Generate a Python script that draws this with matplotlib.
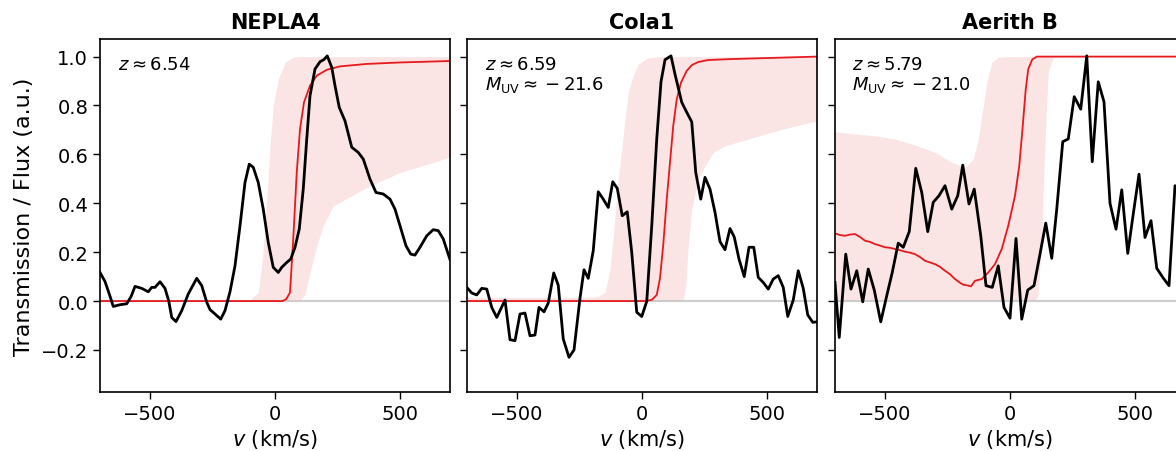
import numpy as np
import matplotlib
matplotlib.use("Agg")
import matplotlib.pyplot as plt

# ---------------- data ----------------
titles = ["NEPLA4", "Cola1", "Aerith B"]
labels = [r"$z\approx6.54$",
          "$z\\approx6.59$\n$M_{\\rm UV}\\approx-21.6$",
          "$z\\approx5.79$\n$M_{\\rm UV}\\approx-21.0$"]

# NEPLA4 observed flux
v1 = [-700, -680, -660, -647, -620, -593, -575, -560, -533, -507, -493, -480, -460, -440, -425, -413,
      -396, -373, -347, -313, -293, -273, -260, -240, -217, -200, -180, -160, -140, -120, -103, -87,
      -67, -47, -27, -7, 13, 27, 47, 63, 80, 97, 113, 127, 140, 160, 180, 196, 209, 227, 240, 257,
      280, 307, 333, 353, 380, 404, 433, 460, 480, 500, 524, 543, 560, 580, 607, 633, 653, 673, 697, 700]
f1 = [0.117, 0.08, 0.02, -0.022, -0.015, -0.011, 0.02, 0.06, 0.052, 0.038, 0.056, 0.056, 0.079, 0.052, 0.0, -0.067,
      -0.084, -0.039, 0.029, 0.093, 0.063, -0.005, -0.035, -0.053, -0.074, -0.039, 0.038, 0.144, 0.308, 0.485, 0.560, 0.547,
      0.485, 0.376, 0.240, 0.138, 0.117, 0.138, 0.158, 0.172, 0.220, 0.294, 0.458, 0.663, 0.840, 0.949, 0.979, 0.988, 1.003, 0.956, 0.881, 0.792,
      0.737, 0.629, 0.608, 0.581, 0.499, 0.444, 0.438, 0.417, 0.376, 0.308, 0.226, 0.192, 0.188, 0.220, 0.267, 0.292, 0.288, 0.254, 0.179, 0.17]
# NEPLA4 transmission median
tv1 = [-700, 30, 45, 60, 73, 87, 100, 116, 140, 167, 207, 260, 367, 500, 700]
tm1 = [0.0, 0.0, 0.008, 0.035, 0.254, 0.526, 0.703, 0.813, 0.881, 0.922, 0.946, 0.960, 0.970, 0.976, 0.982]
# NEPLA4 transmission 16-84 band
bv1 = [-700, -100, -67, -49, -33, -20, -7, 13, 40, 73, 100, 120, 140, 167, 193, 233, 260, 367, 500, 633, 700]
bl1 = [0.0, 0.0, 0.0, 0.0, 0.0, 0.0, 0.0, 0.0, 0.0, 0.0, 0.0, 0.026, 0.117, 0.226, 0.308, 0.390, 0.404, 0.465, 0.526, 0.567, 0.59]
bu1 = [0.0, 0.005, 0.035, 0.185, 0.417, 0.635, 0.799, 0.908, 0.976, 0.997, 1.0, 1.0, 1.0, 1.0, 1.0, 1.0, 1.0, 1.0, 1.0, 1.0, 1.0]

# Cola1 observed flux
v2 = [-701, -681, -661, -641, -621, -601, -581, -548, -528, -508, -488, -468, -448, -428, -412, -392,
      -375, -353, -335, -315, -292, -272, -248, -232, -215, -195, -175, -155, -135, -117, -99, -79,
      -59, -41, -21, -1, 19, 39, 59, 76, 92, 116, 132, 159, 179, 199, 215, 235, 252, 272, 292, 312,
      332, 352, 369, 388, 409, 428, 447, 465, 485, 505, 525, 545, 565, 583, 605, 625, 645, 663, 683, 700]
f2 = [0.056, 0.033, 0.025, 0.052, 0.049, -0.026, -0.067, 0.004, -0.158, -0.162, -0.053, -0.049, -0.142, -0.139, -0.026, -0.044,
      -0.008, 0.115, 0.065, -0.155, -0.230, -0.200, 0.012, 0.128, 0.093, 0.206, 0.447, 0.417, 0.383, 0.488, 0.461, 0.349,
      0.365, 0.199, -0.046, -0.063, -0.001, 0.308, 0.663, 0.897, 0.987, 1.003, 0.928, 0.813, 0.772, 0.733, 0.526, 0.417, 0.506, 0.458, 0.363, 0.243,
      0.210, 0.297, 0.262, 0.172, 0.100, 0.220, 0.220, 0.097, 0.076, 0.049, 0.090, 0.104, 0.056, -0.063, 0.004, 0.124, 0.052, -0.057, -0.087, -0.085]
# Cola1 transmission median
tv2 = [-700, 12, 39, 59, 72, 85, 99, 112, 125, 139, 156, 179, 199, 225, 265, 359, 700]
tm2 = [0.0, 0.0, 0.005, 0.025, 0.094, 0.230, 0.417, 0.567, 0.717, 0.826, 0.894, 0.942, 0.965, 0.978, 0.986, 0.990, 1.0]
# Cola1 transmission 16-84 band
bv2 = [-700, -200, -175, -148, -128, -111, -95, -81, -68, -55, -35, -15, 19, 65, 165, 175, 185, 199, 225, 252, 285, 332, 425, 559, 700]
bl2 = [0.0, 0.0, 0.0, 0.0, 0.0, 0.0, 0.0, 0.0, 0.0, 0.0, 0.0, 0.0, 0.0, 0.0, 0.0, 0.067, 0.230, 0.376, 0.499, 0.553, 0.608, 0.635, 0.663, 0.703, 0.737]
bu2 = [0.015, 0.015, 0.02, 0.035, 0.131, 0.308, 0.499, 0.622, 0.744, 0.854, 0.922, 0.969, 0.993, 1.0, 1.0, 1.0, 1.0, 1.0, 1.0, 1.0, 1.0, 1.0, 1.0, 1.0, 1.0]

# Aerith B observed flux
v3 = [-700, -683, -657, -636, -613, -589, -567, -543, -517, -493, -471, -447, -427, -403, -377, -353,
      -329, -307, -284, -260, -233, -209, -189, -164, -143, -117, -96, -71, -47, -24, 0, 24,
      47, 71, 96, 120, 143, 167, 187, 211, 233, 257, 283, 307, 329, 353, 376, 400, 424, 447, 471, 493,
      516, 540, 564, 587, 611, 636, 660, 680, 700]
f3 = [0.076, -0.149, 0.192, 0.049, 0.124, -0.003, 0.131, 0.045, -0.085, 0.022, 0.117, 0.237, 0.220, 0.284, 0.543, 0.444,
      0.284, 0.404, 0.431, 0.472, 0.376, 0.431, 0.556, 0.397, 0.458, 0.267, 0.063, 0.056, 0.144, -0.026, -0.070, 0.256,
      -0.074, 0.045, 0.063, 0.192, 0.319, 0.175, 0.376, 0.652, 0.663, 0.836, 0.785, 1.003, 0.570, 0.897, 0.815, 0.400, 0.294, 0.455, 0.195, 0.356,
      0.519, 0.260, 0.329, 0.134, 0.097, 0.063, 0.472, 0.45, 0.38]
# Aerith B transmission median
tv3 = [-700, -680, -660, -640, -620, -600, -580, -560, -540, -520, -500, -480, -460, -440, -420, -400, -380, -360, -340, -320,
       -300, -280, -260, -240, -220, -200, -187, -170, -156, -140, -113, -87, -60, -33, -7, 20, 37, 51, 63, 73, 89, 107, 700]
tm3 = [0.277, 0.270, 0.267, 0.272, 0.274, 0.262, 0.247, 0.242, 0.233, 0.227, 0.220, 0.218, 0.213, 0.208, 0.202, 0.198, 0.192, 0.180, 0.165, 0.158,
       0.151, 0.140, 0.124, 0.110, 0.090, 0.075, 0.067, 0.064, 0.060, 0.083, 0.090, 0.117, 0.151, 0.213, 0.308, 0.431, 0.553, 0.717, 0.867, 0.949, 0.988, 1.0, 1.0]
# Aerith B transmission 16-84 band
bv3 = [-700, -620, -540, -460, -380, -300, -233, -180, -147, -127, -107, -93, -73, -47, -7, 100, 113, 127, 140, 153, 173, 700]
bl3 = [0.0, 0.0, 0.0, 0.0, 0.0, 0.0, 0.0, 0.0, 0.0, 0.0, 0.0, 0.0, 0.0, 0.0, 0.0, 0.0, 0.026, 0.26, 0.663, 0.94, 0.997, 1.0]
bu3 = [0.693, 0.683, 0.676, 0.663, 0.638, 0.608, 0.567, 0.547, 0.580, 0.663, 0.799, 0.894, 0.976, 0.997, 1.0, 1.0, 1.0, 1.0, 1.0, 1.0, 1.0, 1.0]

flux_v = [v1, v2, v3]
flux = [f1, f2, f3]
trans_v = [tv1, tv2, tv3]
trans = [tm1, tm2, tm3]
band_v = [bv1, bv2, bv3]
band_lo = [bl1, bl2, bl3]
band_hi = [bu1, bu2, bu3]

xticks = [-500, 0, 500]
yticks = [-0.2, 0.0, 0.2, 0.4, 0.6, 0.8, 1.0]

# ---------------- plot ----------------
plt.rcParams['font.family'] = ['DejaVu Sans']
plt.rcParams['mathtext.fontset'] = 'dejavusans'

W, H = 1176, 452
fig = plt.figure(figsize=(W / 100, H / 100), dpi=100)
lefts = [100, 467, 835]
axw, bot, top = 350, 393, 40

for i in range(3):
    ax = fig.add_axes([lefts[i] / W, (H - bot) / H, axw / W, (bot - top) / H])
    ax.axhline(0, color='0.8', lw=1.5, zorder=1)
    ax.fill_between(band_v[i], band_lo[i], band_hi[i], color='tab:red', alpha=0.12, lw=0, zorder=0)
    ax.plot(trans_v[i], trans[i], color='#e8191c', lw=1.3, zorder=2)
    ax.plot(flux_v[i], flux[i], color='black', lw=2.0, zorder=3)
    ax.set_xlim(-700, 700)
    ax.set_ylim(-0.372, 1.072)
    ax.set_xticks(xticks)
    ax.set_yticks(yticks)
    ax.tick_params(labelsize=14, length=5, width=1)
    if i > 0:
        ax.set_yticklabels([])
    else:
        ax.set_ylabel("Transmission / Flux (a.u.)", fontsize=16, labelpad=5)
    ax.set_xlabel(r"$v$ (km/s)", fontsize=15, labelpad=3)
    ax.set_title(titles[i], fontsize=15, fontweight='bold', pad=8)
    ax.text(0.05, 0.955, labels[i], transform=ax.transAxes, ha='left', va='top', fontsize=13, linespacing=1.1)
    for s in ax.spines.values():
        s.set_linewidth(1.2)

fig.savefig("out.png", dpi=100)
